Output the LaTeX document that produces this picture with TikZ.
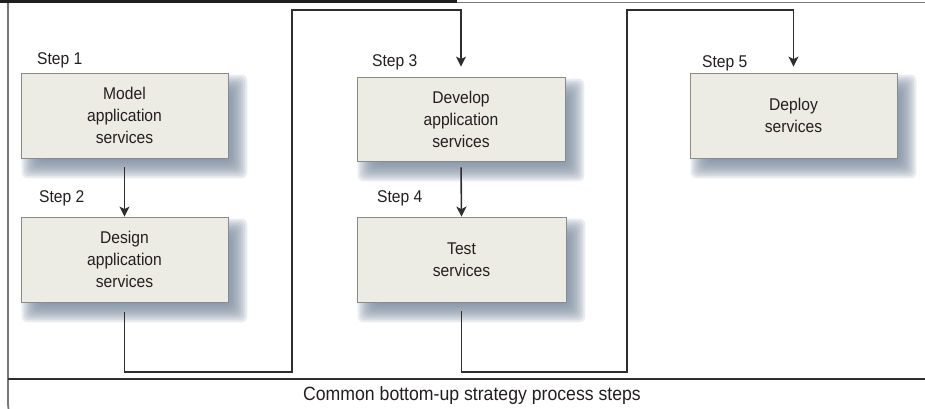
\documentclass[tikz,border=0pt]{standalone}
\usepackage{fontspec}
\setmainfont{Liberation Sans}[FakeStretch=0.92]
\usetikzlibrary{arrows.meta,backgrounds}

\definecolor{boxfill}{HTML}{ECEBE4}
\definecolor{boxline}{HTML}{8A8A86}
\definecolor{inkdark}{HTML}{231F20}
\definecolor{wire}{HTML}{2E2E2E}
\definecolor{shadowblue}{HTML}{76869A}
\definecolor{framegrey}{HTML}{777777}

\tikzset{
  stepbox/.style={draw=boxline, line width=0.8pt, fill=boxfill,
    minimum width=207pt, minimum height=85pt, inner sep=0pt,
    align=center, font=\fontsize{17}{22}\selectfont, text=inkdark},
  steplabel/.style={anchor=west, inner sep=0pt,
    font=\fontsize{17}{19}\selectfont, text=inkdark},
  flow/.style={draw=wire, line width=1.6pt,
    -{Stealth[length=10pt,width=10pt,inset=2.5pt]}},
  softshade/.style={fill=shadowblue, fill opacity=0.16, draw=none},
}

\begin{document}
\begin{tikzpicture}[x=1pt,y=-1pt]
  \useasboundingbox (0,0) rectangle (925,408);
  \clip (0,0) rectangle (925,408);

  % process boxes
  \node[stepbox] (model) at (124.5,115.5) {Model\\application\\services};
  \node[stepbox] (design) at (124.5,259.5) {Design\\application\\services};
  \node[stepbox, minimum width=208pt, minimum height=84pt] (develop) at (461,119)
    {Develop\\application\\services};
  \node[stepbox, minimum width=209pt] (test) at (461.5,259.5) {Test\\services};
  \node[stepbox] (deploy) at (793.5,115.5) {Deploy\\services};

  % soft drop shadows behind the boxes
  \begin{scope}[on background layer]
    \foreach \b in {model,design,develop,test,deploy}{
      \foreach \d [evaluate=\d as \lo using 10-\d,
                   evaluate=\d as \hi using 10+\d] in {9,7,...,-9}{
        \fill[softshade, rounded corners=6pt]
          ([xshift=\lo pt, yshift=-\lo pt-1pt]\b.north west) rectangle
          ([xshift=\hi pt, yshift=-\hi pt-1pt]\b.south east);
      }
    }
  \end{scope}

  % outer frame with caption strip
  \draw[framegrey, line width=1.8pt, rounded corners=26pt]
    (8,2) -- (8,430) -- (940,430) -- (940,2);
  \draw[wire, line width=1.2pt] (8,379) -- (925,379);
  \draw[framegrey, line width=1.2pt] (0,2.5) -- (925,2.5);
  \fill[black!88] (0,0) rectangle (457,3.4);

  % step labels
  \node[steplabel] (s1) at (37,60) {Step 1};
  \node[steplabel] (s2) at (39,198) {Step 2};
  \node[steplabel] (s3) at (372,62) {Step 3};
  \node[steplabel] (s4) at (377,198) {Step 4};
  \node[steplabel] (s5) at (702,63) {Step 5};

  % routing points of the long connectors
  \coordinate (a1) at (124.5,372);
  \coordinate (a2) at (292,372);
  \coordinate (a3) at (292,10);
  \coordinate (a4) at (461,10);
  \coordinate (b1) at (461.5,372);
  \coordinate (b2) at (627,372);
  \coordinate (b3) at (627,10);
  \coordinate (b4) at (793.5,10);

  % connectors
  \draw[flow, shorten <=9pt] (model.south) -- (design.north);
  \draw[flow, shorten <=6pt] (develop.south) -- (test.north);
  \draw[flow, shorten <=10pt, shorten >=10pt, line join=miter]
    (design.south) -- (a1) -- (a2) -- (a3) -- (a4) -- (develop.north);
  \draw[flow, shorten <=9pt, shorten >=6pt, line join=miter]
    (test.south) -- (b1) -- (b2) -- (b3) -- (b4) -- (deploy.north);

  % caption
  \node[font=\fontsize{19.2}{22}\selectfont, text=inkdark] (caption) at (472,396)
    {Common bottom-up strategy process steps};
\end{tikzpicture}
\end{document}
